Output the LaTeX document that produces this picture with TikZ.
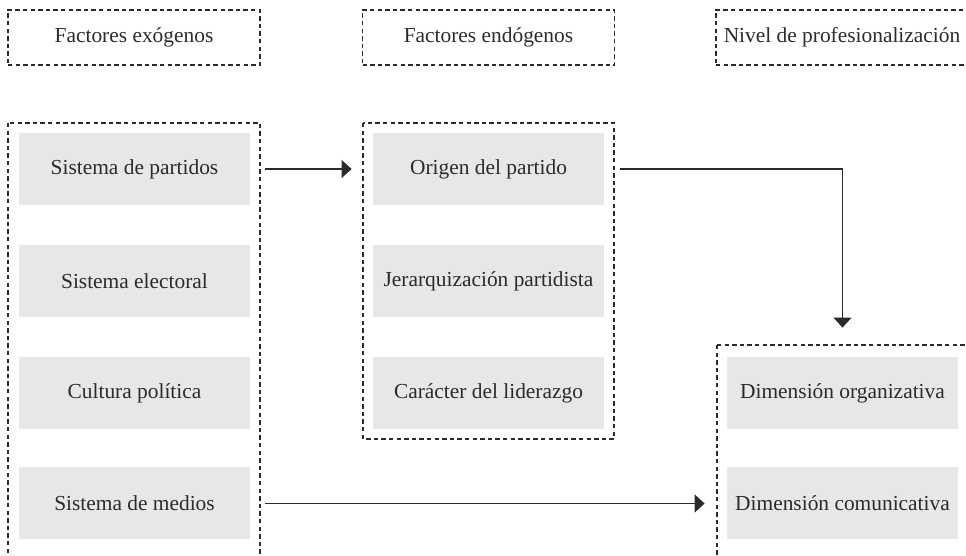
\documentclass[tikz,border=0pt]{standalone}
\usepackage{fontspec}
\setmainfont{Liberation Serif}
\usetikzlibrary{arrows.meta}

\definecolor{boxgray}{HTML}{E6E7E8}
\definecolor{inkgray}{HTML}{2B2B2B}

\begin{document}
\begin{tikzpicture}[x=0.5pt, y=-0.5pt, >={Triangle[width=9pt,length=5pt]},
    txt/.style={font=\fontsize{10.7}{13}\selectfont, text=inkgray},
    factor/.style={txt, fill=boxgray, minimum width=115.5pt, minimum height=36pt, inner sep=0pt},
    dashline/.style={draw=inkgray, line width=0.6pt, dash pattern=on 2.2pt off 1.6pt},
    header/.style={txt, dashline, minimum width=126pt, minimum height=27.5pt, inner sep=0pt},
    link/.style={->, draw=inkgray, line width=0.6pt}]

\useasboundingbox (0,0) rectangle (966,556);
\clip (0,0) rectangle (966,556);

% Column headers
\node[header] (hexo) at (134,37.5) {Factores exógenos};
\node[header] (hendo) at (488.5,37.5) {Factores endógenos};
\node[header] (hprof) at (842,37.5) {Nivel de profesionalización};

% Dashed frames
\draw[dashline] (8,123) rectangle (260,600);
\draw[dashline] (363,123) rectangle (614,439);
\draw[dashline] (717,345) rectangle (1000,600);

% Exogenous factors
\node[factor] (partidos) at (134.5,169) {Sistema de partidos};
\node[factor] (electoral) at (134.5,281) {Sistema electoral};
\node[factor] (cultura) at (134.5,393) {Cultura política};
\node[factor] (medios) at (134.5,503.5) {Sistema de medios};

% Endogenous factors
\node[factor] (origen) at (488.5,169) {Origen del partido};
\node[factor] (jerarquia) at (488.5,281) {Jerarquización partidista};
\node[factor] (liderazgo) at (488.5,393) {Carácter del liderazgo};

% Professionalisation
\node[factor] (organizativa) at (842.5,393) {Dimensión organizativa};
\node[factor] (comunicativa) at (842.5,503.5) {Dimensión comunicativa};

% Links
\draw[link, shorten <=7.5pt, shorten >=10.5pt] (partidos.east) -- (origen.west);
\draw[link, shorten <=8pt, shorten >=14.5pt] (origen.east) -| (organizativa.north);
\draw[link, shorten <=7.5pt, shorten >=11pt] (medios.east) -- (comunicativa.west);

\end{tikzpicture}
\end{document}
